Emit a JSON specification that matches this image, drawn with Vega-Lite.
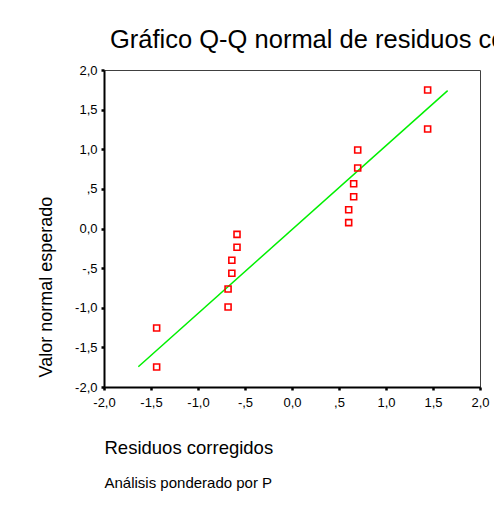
{
  "$schema": "https://vega.github.io/schema/vega-lite/v6.json",
  "width": 376,
  "height": 317,
  "autosize": {"type": "none"},
  "padding": {"left": 104, "top": 70, "right": 14, "bottom": 119},
  "background": "white",
  "title": {
    "text": "Gráfico Q-Q normal de residuos corregidos",
    "anchor": "start",
    "frame": "group",
    "dx": 6,
    "offset": 11,
    "fontSize": 25.5,
    "font": "Liberation Sans",
    "fontWeight": "normal",
    "color": "black"
  },
  "config": {
    "font": "Liberation Sans",
    "view": {"stroke": "#404040", "strokeWidth": 1},
    "axis": {
      "grid": false,
      "domainColor": "black",
      "domainWidth": 2,
      "tickColor": "black",
      "tickWidth": 2.5,
      "tickSize": 3,
      "labelColor": "black",
      "labelFontSize": 13,
      "labelFont": "Liberation Sans",
      "titleFont": "Liberation Sans",
      "titleColor": "black",
      "titleFontWeight": "normal",
      "labelFlush": false,
      "labelOverlap": false
    }
  },
  "datasets": {
    "points": [
      {"x": -1.44, "y": -1.256},
      {"x": -1.44, "y": -1.748},
      {"x": -0.68, "y": -0.99},
      {"x": -0.68, "y": -0.763},
      {"x": -0.64, "y": -0.565},
      {"x": -0.64, "y": -0.401},
      {"x": -0.585, "y": -0.237},
      {"x": -0.585, "y": -0.074},
      {"x": 0.603, "y": 0.074},
      {"x": 0.603, "y": 0.237},
      {"x": 0.656, "y": 0.401},
      {"x": 0.656, "y": 0.565},
      {"x": 0.699, "y": 0.763},
      {"x": 0.699, "y": 0.99},
      {"x": 1.443, "y": 1.256},
      {"x": 1.443, "y": 1.748}
    ],
    "line": [
      {"x": -1.635, "y": -1.744},
      {"x": 1.656, "y": 1.739}
    ]
  },
  "layer": [
    {
      "data": {"name": "line"},
      "mark": {"type": "line", "color": "#00f000", "strokeWidth": 1.5},
      "encoding": {
        "x": {
          "field": "x",
          "type": "quantitative",
          "scale": {"domain": [-2, 2], "nice": false, "zero": false},
          "axis": {
            "title": "Residuos corregidos",
            "titleFontSize": 18.5,
            "titleAnchor": "start",
            "titlePadding": 29,
            "labelPadding": 6,
            "values": [-2, -1.5, -1, -0.5, 0, 0.5, 1, 1.5, 2],
            "labelExpr": "(datum.value < 0 ? '-' : '') + (datum.value == 0 ? '0,0' : (abs(datum.value) < 1 ? ',5' : replace(format(abs(datum.value), '.1f'), '.', ',')))"
          }
        },
        "y": {
          "field": "y",
          "type": "quantitative",
          "scale": {"domain": [-2, 2], "nice": false, "zero": false},
          "axis": {
            "title": "Valor normal esperado",
            "titleFontSize": 18,
            "titleAnchor": "start",
            "titleY": 307,
            "titlePadding": 19,
            "labelPadding": 4,
            "values": [-2, -1.5, -1, -0.5, 0, 0.5, 1, 1.5, 2],
            "labelExpr": "(datum.value < 0 ? '-' : '') + (datum.value == 0 ? '0,0' : (abs(datum.value) < 1 ? ',5' : replace(format(abs(datum.value), '.1f'), '.', ',')))"
          }
        }
      }
    },
    {
      "data": {"name": "points"},
      "mark": {"type": "point", "shape": "square", "filled": false, "color": "#ff0000", "opacity": 1, "size": 36, "strokeWidth": 1.6},
      "encoding": {
        "x": {
          "field": "x",
          "type": "quantitative",
          "axis": {
            "orient": "bottom",
            "domain": false,
            "ticks": false,
            "labels": false,
            "title": "Análisis ponderado por P",
            "titleFontSize": 15,
            "titleAnchor": "start",
            "titlePadding": 88
          }
        },
        "y": {"field": "y", "type": "quantitative", "axis": null}
      }
    }
  ],
  "resolve": {"axis": {"x": "independent", "y": "independent"}}
}
